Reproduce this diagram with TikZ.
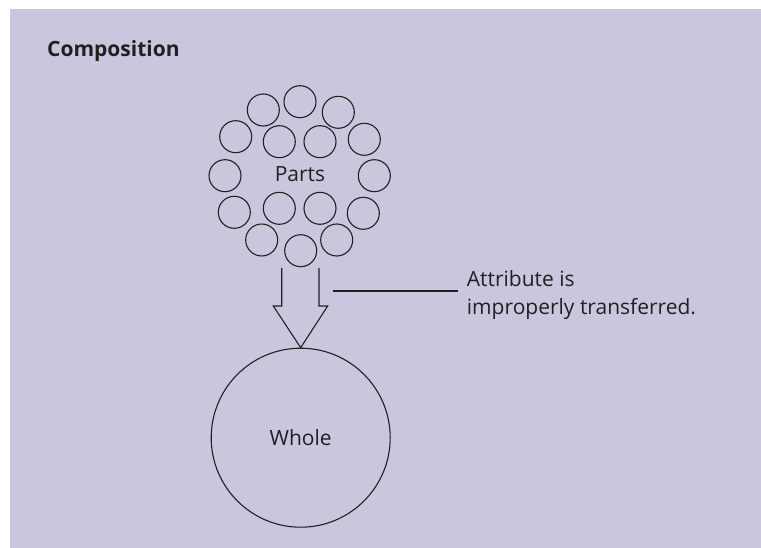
\documentclass[tikz,border=0pt]{standalone}
\usepackage{fontspec}
\setmainfont{Open Sans}
\usetikzlibrary{calc}
\definecolor{bg}{RGB}{201,199,222}
\definecolor{ink}{RGB}{35,31,32}
\begin{document}
\begin{tikzpicture}[x=1pt,y=-1pt,
  ink/.style={draw=ink,line width=1.1pt},
  part/.style={circle,ink,minimum size=32pt,inner sep=0pt},
  lbl/.style={text=ink,font=\fontsize{21}{28}\selectfont,inner sep=0pt}]
\useasboundingbox (0,0) rectangle (761,548);
\fill[white] (0,0) rectangle (761,548);
\fill[bg] (10,9) rectangle (761,548);
\node[anchor=base west,text=ink,inner sep=0pt,font=\fontsize{21}{24}\selectfont\bfseries] (title) at (47,56.7) {Composition};
% parts
\node[part] (p1) at (300,101.7) {};
\node[part] (p2) at (263.3,110) {};
\node[part] (p3) at (338.3,112.3) {};
\node[part] (p4) at (235.7,136.7) {};
\node[part] (p5) at (279.3,141.7) {};
\node[part] (p6) at (320,141.7) {};
\node[part] (p7) at (364.3,139.3) {};
\node[part] (p8) at (225,175.7) {};
\node[part] (p9) at (374.3,175.7) {};
\node[part] (p10) at (234.3,212.3) {};
\node[part] (p11) at (279.3,208.3) {};
\node[part] (p12) at (320,208.3) {};
\node[part] (p13) at (363.3,213.3) {};
\node[part] (p14) at (261.7,240) {};
\node[part] (p15) at (300.7,250.7) {};
\node[part] (p16) at (336.7,240) {};
\node[lbl] (parts) at (300,174.3) {Parts};
% whole
\node[circle,ink,minimum size=179pt,inner sep=0pt,lbl] (whole) at (300.7,437.7) {Whole};
% block arrow
\draw[ink,line join=miter] (281.7,268) -- (281.7,306) -- (273.3,306) -- (whole.north) -- (327.7,306) -- (319,306) -- (319,268);
% annotation
\node[lbl,anchor=west,align=left] (attr) at (466.7,295) {Attribute is\\improperly transferred.};
\coordinate (lead) at (332.7,291);
\draw[ink] (lead) -- (lead -| {$(attr.west)+(-9,0)$});
\end{tikzpicture}
\end{document}
